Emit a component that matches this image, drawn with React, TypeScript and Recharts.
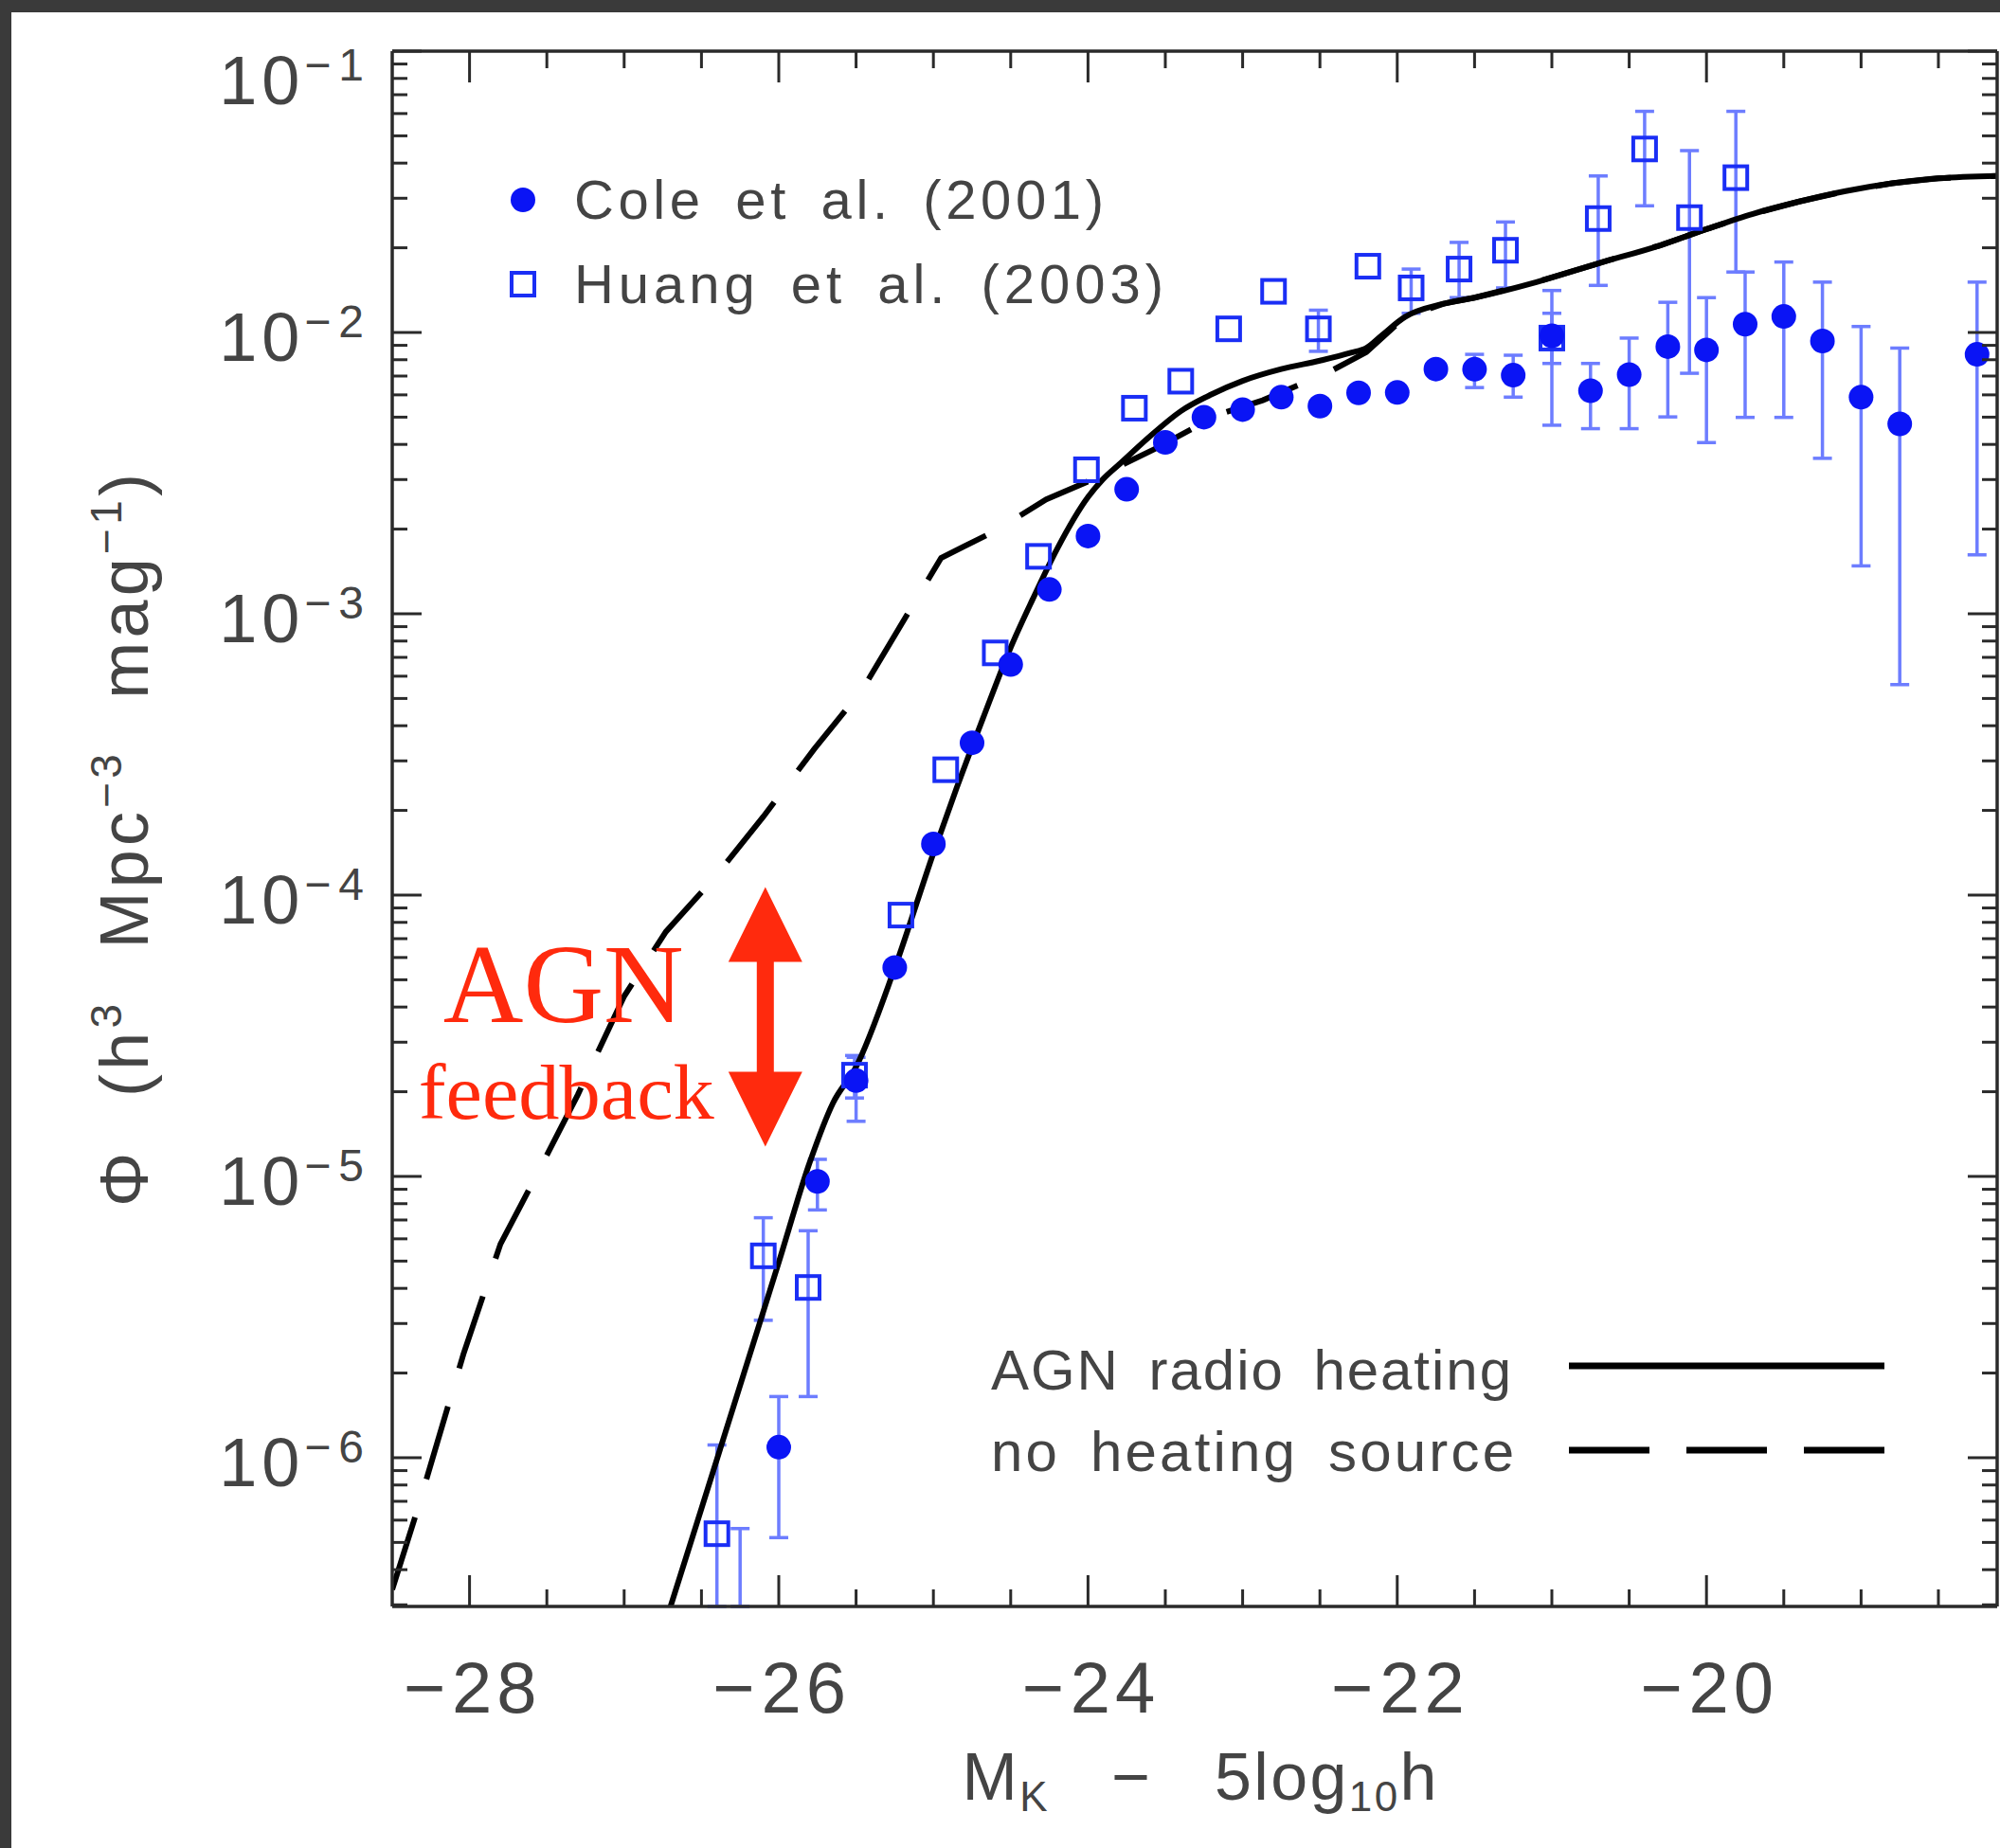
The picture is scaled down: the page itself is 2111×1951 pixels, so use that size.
import React from "react";
import {
  ComposedChart,
  Line,
  Scatter,
  XAxis,
  YAxis,
  ErrorBar,
  ReferenceDot,
  Legend,
  Label,
} from "recharts";

const W = 2111;
const H = 1951;
const X_DOMAIN: [number, number] = [-28.5, -18.12];
const Y_DOMAIN: [number, number] = [2.96e-7, 0.1];

// ---------- tick labels ----------
const xMajorTicks = [-28, -26, -24, -22, -20];
const xTicks = [
  -28, -27.5, -27, -26.5, -26, -25.5, -25, -24.5, -24, -23.5, -23, -22.5, -22,
  -21.5, -21, -20.5, -20, -19.5, -19, -18.5,
];
const yDecades = [-7, -6, -5, -4, -3, -2];
const yMantissas = [1, 2, 3, 4, 5, 6, 7, 8, 9];
const yTicks = [
  ...yDecades.flatMap((d) => yMantissas.map((m) => m * Math.pow(10, d))),
  0.1,
].filter((v) => v >= Y_DOMAIN[0] && v <= Y_DOMAIN[1] * 1.0001);

// ---------- series names ----------
const COLE_NAME = "Cole et al. (2001)";
const HUANG_NAME = "Huang et al. (2003)";
const SOLID_NAME = "AGN radio heating";
const DASH_NAME = "no heating source";

// ---------- Cole et al. (2001) ----------
const coleMag = [
  -26.25, -26.0, -25.75, -25.5, -25.25, -25.0, -24.75, -24.5, -24.25, -24.0,
  -23.75, -23.5, -23.25, -23.0, -22.75, -22.5, -22.25, -22.0, -21.75, -21.5,
  -21.25, -21.0, -20.75, -20.5, -20.25, -20.0, -19.75, -19.5, -19.25, -19.0,
  -18.75, -18.25,
];
const colePhi = [
  2.96e-7, 1.09e-6, 9.6e-6, 2.19e-5, 5.53e-5, 1.52e-4, 3.48e-4, 6.6e-4, 1.22e-3,
  1.89e-3, 2.77e-3, 4.07e-3, 5.0e-3, 5.32e-3, 5.89e-3, 5.47e-3, 6.1e-3, 6.12e-3,
  7.41e-3, 7.4e-3, 7.05e-3, 9.73e-3, 6.21e-3, 7.08e-3, 8.91e-3, 8.67e-3, 1.07e-2,
  1.14e-2, 9.33e-3, 5.89e-3, 4.73e-3, 8.36e-3,
];
const coleLo = [
  2.96e-7, 5.2e-7, 7.6e-6, 1.57e-5, 5.2e-5, 1.46e-4, 3.35e-4, 6.4e-4, 1.19e-3,
  1.85e-3, 2.72e-3, 4.0e-3, 4.9e-3, 5.2e-3, 5.75e-3, 5.35e-3, 5.95e-3, 5.98e-3,
  7.15e-3, 6.37e-3, 5.89e-3, 4.68e-3, 4.55e-3, 4.55e-3, 5.01e-3, 4.06e-3,
  4.99e-3, 4.99e-3, 3.57e-3, 1.48e-3, 5.6e-4, 1.62e-3,
];
const coleHi = [
  5.6e-7, 1.65e-6, 1.15e-5, 2.65e-5, 5.9e-5, 1.58e-4, 3.6e-4, 6.8e-4, 1.25e-3,
  1.93e-3, 2.82e-3, 4.15e-3, 5.1e-3, 5.45e-3, 6.05e-3, 5.6e-3, 6.25e-3, 6.27e-3,
  7.8e-3, 8.36e-3, 8.3e-3, 1.41e-2, 7.76e-3, 9.55e-3, 1.28e-2, 1.33e-2, 1.64e-2,
  1.78e-2, 1.51e-2, 1.05e-2, 8.8e-3, 1.51e-2,
];

// ---------- Huang et al. (2003) ----------
const huangMag = [
  -26.4, -26.1, -25.81, -25.51, -25.21, -24.92, -24.6, -24.32, -24.01, -23.7,
  -23.4, -23.09, -22.8, -22.51, -22.19, -21.91, -21.6, -21.3, -21.0, -20.7,
  -20.4, -20.11, -19.81,
];
const huangPhi = [
  5.37e-7, 5.22e-6, 4.03e-6, 2.29e-5, 8.49e-5, 2.79e-4, 7.26e-4, 1.6e-3, 3.25e-3,
  5.38e-3, 6.71e-3, 1.03e-2, 1.4e-2, 1.03e-2, 1.72e-2, 1.44e-2, 1.68e-2, 1.96e-2,
  9.55e-3, 2.54e-2, 4.49e-2, 2.56e-2, 3.55e-2,
];
const huangLo = [
  2.96e-7, 3.08e-6, 1.65e-6, 1.9e-5, 7.9e-5, 2.6e-4, 6.8e-4, 1.5e-3, 3.05e-3,
  5.05e-3, 6.3e-3, 9.65e-3, 1.31e-2, 8.57e-3, 1.58e-2, 1.17e-2, 1.33e-2, 1.44e-2,
  7.76e-3, 1.47e-2, 2.82e-2, 7.16e-3, 1.64e-2,
];
const huangHi = [
  1.11e-6, 7.13e-6, 6.41e-6, 2.69e-5, 9.1e-5, 3.0e-4, 7.75e-4, 1.7e-3, 3.47e-3,
  5.75e-3, 7.15e-3, 1.1e-2, 1.5e-2, 1.2e-2, 1.86e-2, 1.68e-2, 2.09e-2, 2.47e-2,
  1.17e-2, 3.6e-2, 6.11e-2, 4.43e-2, 6.11e-2,
];

// ---------- model: AGN radio heating (solid) ----------
const solidMag = [
  -26.7, -26.5, -26.2, -26.0, -25.8, -25.65, -25.5, -25.25, -25.0, -24.85,
  -24.68, -24.5, -24.36, -24.2, -24.0, -23.9, -23.8, -23.6, -23.4, -23.2, -23.0,
  -22.75, -22.5, -22.3, -22.2, -22.1, -21.95, -21.7, -21.5, -21.1, -20.7, -20.3,
  -20.0, -19.7, -19.4, -19.1, -18.8, -18.5, -18.12,
];
const solidPhi = [
  2.96e-7, 6.6e-7, 2.21e-6, 4.95e-6, 1.12e-5, 1.82e-5, 2.45e-5, 5.5e-5, 1.41e-4,
  2.4e-4, 4.24e-4, 7.59e-4, 1.12e-3, 1.7e-3, 2.6e-3, 3.02e-3, 3.39e-3, 4.27e-3,
  5.25e-3, 6.03e-3, 6.73e-3, 7.41e-3, 7.94e-3, 8.47e-3, 8.81e-3, 9.77e-3,
  1.135e-2, 1.265e-2, 1.33e-2, 1.51e-2, 1.76e-2, 2.04e-2, 2.33e-2, 2.64e-2,
  2.92e-2, 3.18e-2, 3.39e-2, 3.53e-2, 3.6e-2,
];

// ---------- model: no heating source (dashed) ----------
const dashMag = [
  -28.5, -28.34, -28.04, -27.8, -27.58, -27.3, -27.0, -26.73, -26.43, -26.1,
  -25.77, -25.46, -25.1, -24.95, -24.6, -24.27, -23.99, -23.57, -23.15, -22.87,
  -22.44, -22.2, -21.95, -21.7, -21.5, -21.1, -20.7, -20.3, -20.0, -19.7, -19.4,
  -19.1, -18.8, -18.5, -18.12,
];
const dashPhi = [
  3.4e-7, 6.46e-7, 2.33e-6, 5.75e-6, 9.77e-6, 1.95e-5, 4.37e-5, 7.41e-5, 1.13e-4,
  1.9e-4, 3.31e-4, 5.37e-4, 1.15e-3, 1.58e-3, 1.97e-3, 2.55e-3, 2.97e-3,
  3.85e-3, 5.12e-3, 5.74e-3, 7.24e-3, 8.51e-3, 1.135e-2, 1.265e-2, 1.33e-2,
  1.51e-2, 1.76e-2, 2.04e-2, 2.33e-2, 2.64e-2, 2.92e-2, 3.18e-2, 3.39e-2,
  3.53e-2, 3.6e-2,
];

// ---------- annotation anchor (data coords) ----------
const ARROW_X = -26.087;
const ARROW_Y = 3.69e-5;

// error bars smaller than the marker are not drawn
const visibleErr = (y: number, lo: number, hi: number) =>
  hi / y > 1.1 || y / lo > 1.1 ? [y - lo, hi - y] : null;

// ---------- built tables ----------
const coleData = coleMag.map((x, i) => ({
  x,
  y: colePhi[i],
  err: visibleErr(colePhi[i], coleLo[i], coleHi[i]),
}));
const huangData = huangMag.map((x, i) => ({
  x,
  y: huangPhi[i],
  err: visibleErr(huangPhi[i], huangLo[i], huangHi[i]),
}));
const solidData = solidMag.map((x, i) => ({ x, y: solidPhi[i] }));
const dashData = dashMag.map((x, i) => ({ x, y: dashPhi[i] }));

// ---------- style ----------
const SANS = "'Liberation Sans', Arial, Helvetica, sans-serif";
const SERIF = "'Liberation Serif', 'Times New Roman', Times, serif";
const TEXT = "#444444";
const AXIS = "#2a2a2a";
const DOT = "#0a14f5";
const SQ = "#1a2ef5";
const ERR = "#6d7dff";
const RED = "#ff2a0d";

const isMajorLog = (v: number) => {
  const lg = Math.log10(v);
  return Math.abs(lg - Math.round(lg)) < 1e-6;
};

const BottomTick = (p: any) => {
  const { x, y, payload } = p;
  const v = payload.value;
  const major = xMajorTicks.includes(v);
  return (
    <g>
      <line x1={x} x2={x} y1={y} y2={y - (major ? 33 : 18)} stroke={AXIS} strokeWidth={3} />
      {major && (
        <text
          x={x + 3}
          y={y + 112}
          textAnchor="middle"
          fontSize={76}
          fontFamily={SANS}
          fill={TEXT}
        >
          <tspan>{"\u2212"}</tspan>
          <tspan dx={7} letterSpacing={5}>{`${Math.abs(v)}`}</tspan>
        </text>
      )}
    </g>
  );
};

const TopTick = (p: any) => {
  const { x, y, payload } = p;
  const major = xMajorTicks.includes(payload.value);
  return <line x1={x} x2={x} y1={y} y2={y + (major ? 33 : 18)} stroke={AXIS} strokeWidth={3} />;
};

const LeftTick = (p: any) => {
  const { x, y, payload } = p;
  const v = payload.value;
  const major = isMajorLog(v);
  const exp = Math.round(Math.log10(v));
  return (
    <g>
      <line x1={x} x2={x + (major ? 31 : 16)} y1={y} y2={y} stroke={AXIS} strokeWidth={3} />
      {major && (
        <text
          x={x - 22}
          y={y + (exp === -1 ? 56 : 30)}
          textAnchor="end"
          fontFamily={SANS}
          fill={TEXT}
        >
          <tspan fontSize={72} letterSpacing={5}>10</tspan>
          <tspan fontSize={48} dy={-25} letterSpacing={8}>{`\u2212${-exp}`}</tspan>
        </text>
      )}
    </g>
  );
};

const RightTick = (p: any) => {
  const { x, y, payload } = p;
  const major = isMajorLog(payload.value);
  return <line x1={x} x2={x - (major ? 31 : 16)} y1={y} y2={y} stroke={AXIS} strokeWidth={3} />;
};

const XTitle = (props: any) => {
  const vb = props.viewBox ?? { x: 414, y: 1696, width: 1694, height: 255 };
  const cx = vb.x + vb.width / 2 + 5;
  const y = vb.y + 204;
  return (
    <text
      x={cx}
      y={y}
      textAnchor="middle"
      fontSize={70}
      fontFamily={SANS}
      fill={TEXT}
      textLength={501}
      lengthAdjust="spacing"
      style={{ whiteSpace: "pre" }}
    >
      <tspan>M</tspan>
      <tspan fontSize={44} dy={12}>K</tspan>
      <tspan dy={-12}>{"   \u2212   5log"}</tspan>
      <tspan fontSize={44} dy={12}>10</tspan>
      <tspan dy={-12}>h</tspan>
    </text>
  );
};

const YTitle = (props: any) => {
  const vb = props.viewBox ?? { x: 0, y: 54, width: 414, height: 1642 };
  const x = vb.x + 156;
  const y = vb.y + vb.height / 2 + 12;
  return (
    <text
      x={x}
      y={y}
      transform={`rotate(-90, ${x}, ${y})`}
      textAnchor="middle"
      fontSize={72}
      fontFamily={SANS}
      fill={TEXT}
      textLength={774}
      lengthAdjust="spacing"
      style={{ whiteSpace: "pre", wordSpacing: 30 }}
    >
      <tspan>{"\u03A6 (h"}</tspan>
      <tspan fontSize={46} dy={-28}>3</tspan>
      <tspan dy={28}>{" Mpc"}</tspan>
      <tspan fontSize={46} dy={-28}>{"\u22123"}</tspan>
      <tspan dy={28}>{" mag"}</tspan>
      <tspan fontSize={46} dy={-28}>{"\u22121"}</tspan>
      <tspan dy={28}>)</tspan>
    </text>
  );
};

const ColeShape = (p: any) => {
  if (p.payload && p.payload.y <= Y_DOMAIN[0] * 1.001) return <g />;
  return <circle cx={p.cx} cy={p.cy} r={13} fill={DOT} />;
};

const HuangShape = (p: any) => (
  <rect x={p.cx - 12} y={p.cy - 12} width={24} height={24} fill="none" stroke={SQ} strokeWidth={4} />
);

const Annotation = (p: any) => {
  const { cx, cy } = p;
  const pts = [
    [cx, cy - 137],
    [cx + 39, cy - 58],
    [cx + 9, cy - 58],
    [cx + 9, cy + 58],
    [cx + 39, cy + 58],
    [cx, cy + 137],
    [cx - 39, cy + 58],
    [cx - 9, cy + 58],
    [cx - 9, cy - 58],
    [cx - 39, cy - 58],
  ]
    .map((q) => q.join(","))
    .join(" ");
  return (
    <g>
      <text
        x={cx - 340}
        y={cy + 5}
        fontSize={118}
        fontFamily={SERIF}
        fill={RED}
        textLength={254}
        lengthAdjust="spacingAndGlyphs"
      >
        AGN
      </text>
      <text
        x={cx - 366}
        y={cy + 107}
        fontSize={82}
        fontFamily={SERIF}
        fill={RED}
        textLength={312}
        lengthAdjust="spacingAndGlyphs"
      >
        feedback
      </text>
      <polygon points={pts} fill={RED} />
    </g>
  );
};

const legendText = {
  fontFamily: SANS,
  fill: TEXT,
  lengthAdjust: "spacing" as const,
};

const LegendOverlay = () => (
  <svg
    width={W}
    height={H}
    style={{ position: "absolute", left: 0, top: 0, overflow: "visible", pointerEvents: "none" }}
  >
    <circle cx={552} cy={211} r={13} fill={DOT} />
    <text x={606} y={231} fontSize={58} textLength={559} style={{ wordSpacing: 12 }} {...legendText}>
      {COLE_NAME}
    </text>
    <rect x={540} y={288} width={24} height={24} fill="none" stroke={SQ} strokeWidth={4} />
    <text x={606} y={320} fontSize={58} textLength={622} style={{ wordSpacing: 12 }} {...legendText}>
      {HUANG_NAME}
    </text>
    <text x={1046} y={1467} fontSize={60} textLength={549} style={{ wordSpacing: 12 }} {...legendText}>
      {SOLID_NAME}
    </text>
    <line x1={1656} x2={1989} y1={1442} y2={1442} stroke="#000" strokeWidth={7} />
    <text x={1046} y={1553} fontSize={60} textLength={552} style={{ wordSpacing: 12 }} {...legendText}>
      {DASH_NAME}
    </text>
    <line
      x1={1656}
      x2={1989}
      y1={1531}
      y2={1531}
      stroke="#000"
      strokeWidth={7}
      strokeDasharray="85 39"
    />
  </svg>
);

export default function App() {
  return (
    <div
      style={{
        position: "absolute",
        left: 0,
        top: 0,
        width: W,
        height: H,
        background: "#3a3a3a",
        overflow: "hidden",
      }}
    >
      <div
        style={{
          position: "absolute",
          left: 12,
          top: 13,
          right: 0,
          bottom: 0,
          background: "#ffffff",
        }}
      />
      <div style={{ position: "absolute", left: 0, top: 0 }}>
        <ComposedChart width={W} height={H} margin={{ top: 53, right: 0, bottom: 0, left: 0 }}>
          <XAxis
            dataKey="x"
            type="number"
            domain={X_DOMAIN}
            allowDataOverflow
            ticks={xTicks}
            interval={0}
            tickSize={0}
            tickMargin={0}
            tick={BottomTick}
            height={255}
            axisLine={{ stroke: AXIS, strokeWidth: 3.5 }}
            tickLine={false}
          >
            <Label content={XTitle} />
          </XAxis>
          <XAxis
            xAxisId="top"
            orientation="top"
            dataKey="x"
            type="number"
            domain={X_DOMAIN}
            allowDataOverflow
            ticks={xTicks}
            interval={0}
            tickSize={0}
            tickMargin={0}
            tick={TopTick}
            height={1}
            axisLine={{ stroke: AXIS, strokeWidth: 3.5 }}
            tickLine={false}
          />
          <YAxis
            dataKey="y"
            type="number"
            scale="log"
            domain={Y_DOMAIN}
            allowDataOverflow
            ticks={yTicks}
            interval={0}
            tickSize={0}
            tickMargin={0}
            tick={LeftTick}
            width={414}
            axisLine={{ stroke: AXIS, strokeWidth: 3.5 }}
            tickLine={false}
          >
            <Label content={YTitle} />
          </YAxis>
          <YAxis
            yAxisId="right"
            orientation="right"
            type="number"
            scale="log"
            domain={Y_DOMAIN}
            allowDataOverflow
            ticks={yTicks}
            interval={0}
            tickSize={0}
            tickMargin={0}
            tick={RightTick}
            width={3}
            axisLine={{ stroke: AXIS, strokeWidth: 3.5 }}
            tickLine={false}
          />

          <ReferenceDot x={ARROW_X} y={ARROW_Y} r={0} shape={Annotation} />

          <Scatter
            name={HUANG_NAME}
            data={huangData}
            dataKey="y"
            shape={HuangShape}
            isAnimationActive={false}
          >
            <ErrorBar dataKey="err" direction="y" width={10} strokeWidth={3.5} stroke={ERR} />
          </Scatter>
          <Scatter
            name={COLE_NAME}
            data={coleData}
            dataKey="y"
            shape={ColeShape}
            isAnimationActive={false}
          >
            <ErrorBar dataKey="err" direction="y" width={10} strokeWidth={3.5} stroke={ERR} />
          </Scatter>

          <Line
            name={DASH_NAME}
            data={dashData}
            dataKey="y"
            type="linear"
            stroke="#000"
            strokeWidth={6}
            strokeDasharray="80 42"
            dot={false}
            activeDot={false}
            isAnimationActive={false}
          />
          <Line
            name={SOLID_NAME}
            data={solidData}
            dataKey="y"
            type="monotone"
            stroke="#000"
            strokeWidth={6}
            dot={false}
            activeDot={false}
            isAnimationActive={false}
          />

          <Legend
            layout="vertical"
            align="center"
            verticalAlign="middle"
            wrapperStyle={{ left: 0, top: 0, width: W, height: H, pointerEvents: "none" }}
            content={() => <LegendOverlay />}
          />
        </ComposedChart>
      </div>
    </div>
  );
}
